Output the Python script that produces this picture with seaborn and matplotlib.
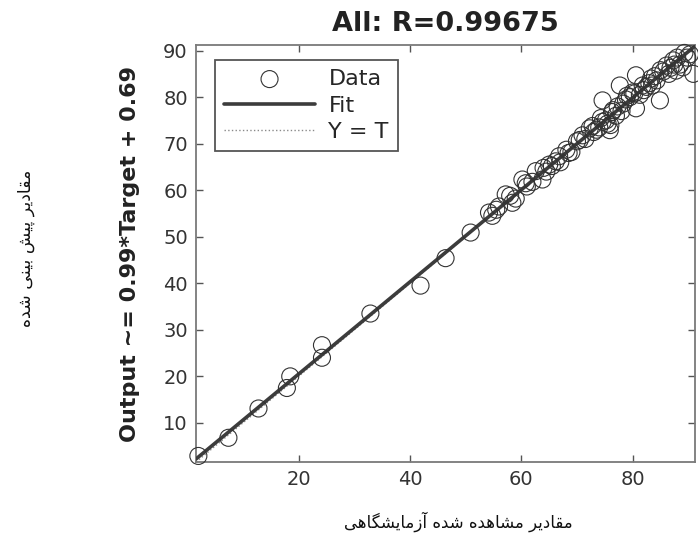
import matplotlib
matplotlib.use("Agg")
import matplotlib.pyplot as plt
import seaborn as sns
import pandas as pd

# ---------------- data ----------------
title_text = "All: R=0.99675"
ylabel_text = "Output ~= 0.99*Target + 0.69"
ylabel_fa = "مقادیر پیش بینی شده"
xlabel_fa = "مقادیر مشاهده شده آزمایشگاهی"
legend_labels = ["Data", "Fit", "Y = T"]
xticks = [20, 40, 60, 80]
yticks = [10, 20, 30, 40, 50, 60, 70, 80, 90]
axis_limits = [1.6, 91.2]
fit_slope = 0.99
fit_intercept = 0.69

target = [2.0, 7.4, 12.8, 17.9, 18.5, 24.2, 24.2, 32.9, 41.9, 46.4, 50.9, 54.2,
          54.8, 55.5, 57.2, 58.4, 59.0, 60.2, 61.0, 62.6, 63.8, 64.5, 65.5, 66.2,
          67.0, 68.1, 69.0, 70.5, 71.5, 72.3, 73.0, 74.0, 74.6, 74.6, 75.2, 75.9,
          76.0, 76.5, 77.0, 77.7, 78.3, 78.8, 79.5, 80.0, 80.6, 80.6, 81.3, 82.0,
          82.5, 83.0, 83.5, 84.3, 84.9, 85.5, 86.1, 86.5, 87.3, 87.8, 88.5, 89.0,
          89.8, 90.9,
          56.0, 58.0, 60.8, 62.0, 64.0, 65.0, 66.8, 68.5, 70.0, 71.0, 72.8, 73.5,
          74.3, 75.5, 76.3, 77.3, 78.0, 79.0, 80.3, 81.8, 83.3, 84.0, 85.0, 86.8,
          87.5, 88.0, 89.3, 90.3]
output = [2.9, 6.8, 13.1, 17.5, 20.0, 26.7, 24.0, 33.5, 39.5, 45.4, 50.9, 55.2,
          54.5, 55.8, 59.1, 57.3, 58.2, 62.3, 60.8, 64.1, 62.3, 64.0, 65.2, 66.2,
          66.0, 68.7, 68.2, 70.8, 71.0, 73.3, 72.5, 73.5, 74.7, 79.3, 75.0, 72.9,
          74.0, 77.2, 76.0, 82.5, 78.6, 79.5, 80.0, 81.0, 77.6, 84.7, 80.5, 81.5,
          82.2, 83.0, 82.5, 83.6, 79.3, 85.5, 86.8, 85.0, 87.9, 85.7, 87.0, 86.4,
          88.5, 85.0,
          56.5, 58.8, 61.5, 61.8, 64.8, 65.5, 67.3, 68.0, 70.5, 71.8, 73.8, 73.0,
          75.5, 74.3, 76.8, 78.0, 77.0, 80.3, 80.8, 82.5, 84.0, 84.5, 85.8, 86.3,
          87.0, 88.5, 89.5, 89.2]

# ------------- Persian shaping (presentation forms) -------------
FORMS = {  # iso, fin, ini, med
    "\u0627": ("\uFE8D", "\uFE8E", None, None),
    "\u0622": ("\uFE81", "\uFE82", None, None),
    "\u062F": ("\uFEA9", "\uFEAA", None, None),
    "\u0631": ("\uFEAD", "\uFEAE", None, None),
    "\u0632": ("\uFEAF", "\uFEB0", None, None),
    "\u0628": ("\uFE8F", "\uFE90", "\uFE91", "\uFE92"),
    "\u067E": ("\uFB56", "\uFB57", "\uFB58", "\uFB59"),
    "\u0634": ("\uFEB5", "\uFEB6", "\uFEB7", "\uFEB8"),
    "\u0642": ("\uFED5", "\uFED6", "\uFED7", "\uFED8"),
    "\u06AF": ("\uFB92", "\uFB93", "\uFB94", "\uFB95"),
    "\u0645": ("\uFEE1", "\uFEE2", "\uFEE3", "\uFEE4"),
    "\u0646": ("\uFEE5", "\uFEE6", "\uFEE7", "\uFEE8"),
    "\u0647": ("\uFEE9", "\uFEEA", "\uFEEB", "\uFEEC"),
    "\u06CC": ("\uFBFC", "\uFBFD", "\uFBFE", "\uFBFF"),
}


def shape(text):
    out = []
    n = len(text)
    for i, ch in enumerate(text):
        f = FORMS.get(ch)
        if f is None:
            out.append(ch)
            continue
        prev = text[i - 1] if i > 0 else None
        nxt = text[i + 1] if i < n - 1 else None
        cp = prev in FORMS and FORMS[prev][2] is not None
        cn = nxt in FORMS and f[2] is not None
        if cp and cn:
            out.append(f[3])
        elif cp:
            out.append(f[1])
        elif cn:
            out.append(f[2])
        else:
            out.append(f[0])
    return "".join(out)[::-1]


# ---------------- plot ----------------
sns.set_style("ticks")
plt.rcParams["font.family"] = ["DejaVu Sans"]

fig = plt.figure(figsize=(6.98, 5.45), dpi=100)
ax = fig.add_axes([0.281, 0.1523, 0.7147, 0.7651])

df = pd.DataFrame({"Target": target, "Output": output})
fit_x = axis_limits
fit_y = [fit_slope * v + fit_intercept for v in axis_limits]

sns.lineplot(x=axis_limits, y=axis_limits, ax=ax, color="#8a8a8a",
             linestyle=":", linewidth=1.0, label=legend_labels[2], zorder=2)
sns.lineplot(x=fit_x, y=fit_y, ax=ax, color="#3c3c3c", linewidth=2.6,
             label=legend_labels[1], zorder=3)
sns.scatterplot(data=df, x="Target", y="Output", ax=ax, marker="o", s=150,
                facecolor="none", edgecolor="#333333", linewidth=0.8,
                label=legend_labels[0], zorder=4, clip_on=False)

ax.set_xlim(axis_limits)
ax.set_ylim(axis_limits)
ax.set_xticks(xticks)
ax.set_yticks(yticks)
ax.tick_params(axis="both", which="both", direction="in", length=5, width=1,
               color="#555555", labelsize=14, labelcolor="#333333",
               top=True, right=True, pad=6)
for sp in ax.spines.values():
    sp.set_visible(True)
    sp.set_color("#7a7a7a")
    sp.set_linewidth(1.3)

ax.set_title(title_text, fontsize=19.5, fontweight="bold", color="#222222", pad=10)
ax.set_xlabel("")
ax.set_ylabel(ylabel_text, fontsize=16, fontweight="bold", color="#222222")
ax.yaxis.set_label_coords(-0.112, 0.5)

h, l = ax.get_legend_handles_labels()
order = [l.index(s) for s in legend_labels]
leg = ax.legend([h[i] for i in order], [l[i] for i in order],
                loc="upper left", bbox_to_anchor=(0.038, 0.964),
                borderaxespad=0, fontsize=16, handlelength=4.1,
                handletextpad=0.6, labelspacing=0.3, fancybox=False,
                framealpha=1, edgecolor="#555555", borderpad=0.4)
leg.get_frame().set_linewidth(1.3)
leg._legend_box.align = "left"

fig.text(26 / 698, 1 - 248 / 545, shape(ylabel_fa), rotation=90,
         ha="center", va="center", fontsize=12.5, color="#111111")
fig.text(458 / 698, 1 - 522 / 545, shape(xlabel_fa),
         ha="center", va="center", fontsize=12, color="#111111")

fig.savefig("out.png", dpi=100)
